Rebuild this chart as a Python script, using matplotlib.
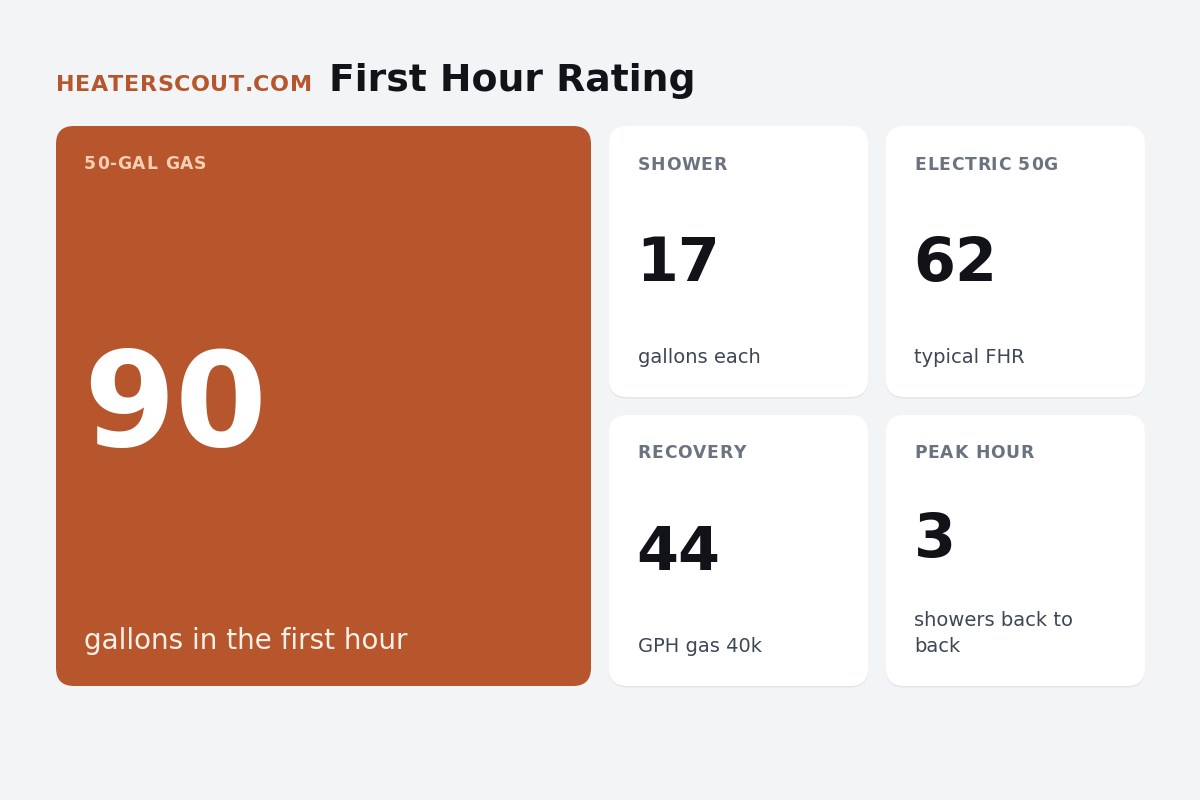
import matplotlib
matplotlib.use("Agg")
import matplotlib.pyplot as plt
from matplotlib.patches import FancyBboxPatch

# ---- content ----
brand = "HEATERSCOUT.COM"
title = "First Hour Rating"

hero_label = "50-GAL GAS"
hero_value = 90
hero_note = "gallons in the first hour"

tile_labels = ["SHOWER", "ELECTRIC 50G", "RECOVERY", "PEAK HOUR"]
tile_values = [17, 62, 44, 3]
tile_notes = ["gallons each", "typical FHR", "GPH gas 40k", "showers back to\nback"]

# ---- colours ----
BG = "#f3f4f6"
ACCENT = "#b7562c"
INK = "#111318"
MUTED = "#6b7280"
NOTE = "#3d4756"

plt.rcParams['font.family'] = ['DejaVu Sans']

fig = plt.figure(figsize=(12, 8), dpi=100, facecolor=BG)
ax = fig.add_axes([0, 0, 1, 1])
ax.set_xlim(0, 1200)
ax.set_ylim(800, 0)
ax.axis("off")
renderer = fig.canvas.get_renderer()


def text_w(s, **kw):
    t = ax.text(0, 0, s, **kw)
    w = t.get_window_extent(renderer).width
    t.remove()
    return w


def spaced_text(x, y, s, spacing, **kw):
    """draw text char by char with extra letter spacing (pixels)"""
    base = text_w("II", **kw)
    cur = x
    for ch in s:
        ax.text(cur, y, ch, va="baseline", ha="left", **kw)
        cur += text_w("I" + ch + "I", **kw) - base + spacing


def card(x0, y0, x1, y1, color, shadow=True):
    if shadow:
        sh = FancyBboxPatch((x0, y0 + 1.5), x1 - x0, y1 - y0,
                            boxstyle="round,pad=0,rounding_size=18",
                            fc="#dfe2e7", ec="none", alpha=0.8, zorder=1)
        ax.add_patch(sh)
    p = FancyBboxPatch((x0, y0), x1 - x0, y1 - y0,
                       boxstyle="round,pad=0,rounding_size=18",
                       fc=color, ec="none", zorder=2)
    ax.add_patch(p)


# header
spaced_text(56, 91, brand, 0.5, fontsize=16, fontweight="bold",
            color=ACCENT, zorder=3)
ax.text(329, 91, title, fontsize=27.2, fontweight="bold", color=INK,
        va="baseline", ha="left", zorder=3)

# hero card
card(56, 126, 591, 686, ACCENT, shadow=False)
spaced_text(84, 169, hero_label, 0.8, fontsize=12.3, fontweight="bold",
            color="#fbcfb2", zorder=3)
ax.text(83, 446, str(hero_value), fontsize=95, fontweight="bold",
        color="white", va="baseline", ha="left", zorder=3)
ax.text(84, 649, hero_note, fontsize=20, color="#fdf0e8",
        va="baseline", ha="left", zorder=3)

# small tiles (2x2)
col_x = [609, 886]
row_y = [126, 415]
tw, th = 259, 271
for i, (lab, val, note) in enumerate(zip(tile_labels, tile_values, tile_notes)):
    x0 = col_x[i % 2]
    y0 = row_y[i // 2]
    card(x0, y0, x0 + tw, y0 + th, "white")
    px = x0 + 28.5
    spaced_text(px, y0 + 43.5, lab, 0.7, fontsize=12.3, fontweight="bold",
                color=MUTED, zorder=3)
    n_lines = note.count("\n") + 1
    num_base = y0 + 155 - (n_lines - 1) * 13
    ax.text(px - 1, num_base, str(val), fontsize=43.5, fontweight="bold",
            color=INK, va="baseline", ha="left", zorder=3)
    ax.text(px, y0 + 241, note, fontsize=14, color=NOTE, va="bottom",
            ha="left", linespacing=1.5, zorder=3)

fig.savefig("out.png", dpi=100, facecolor=BG)
